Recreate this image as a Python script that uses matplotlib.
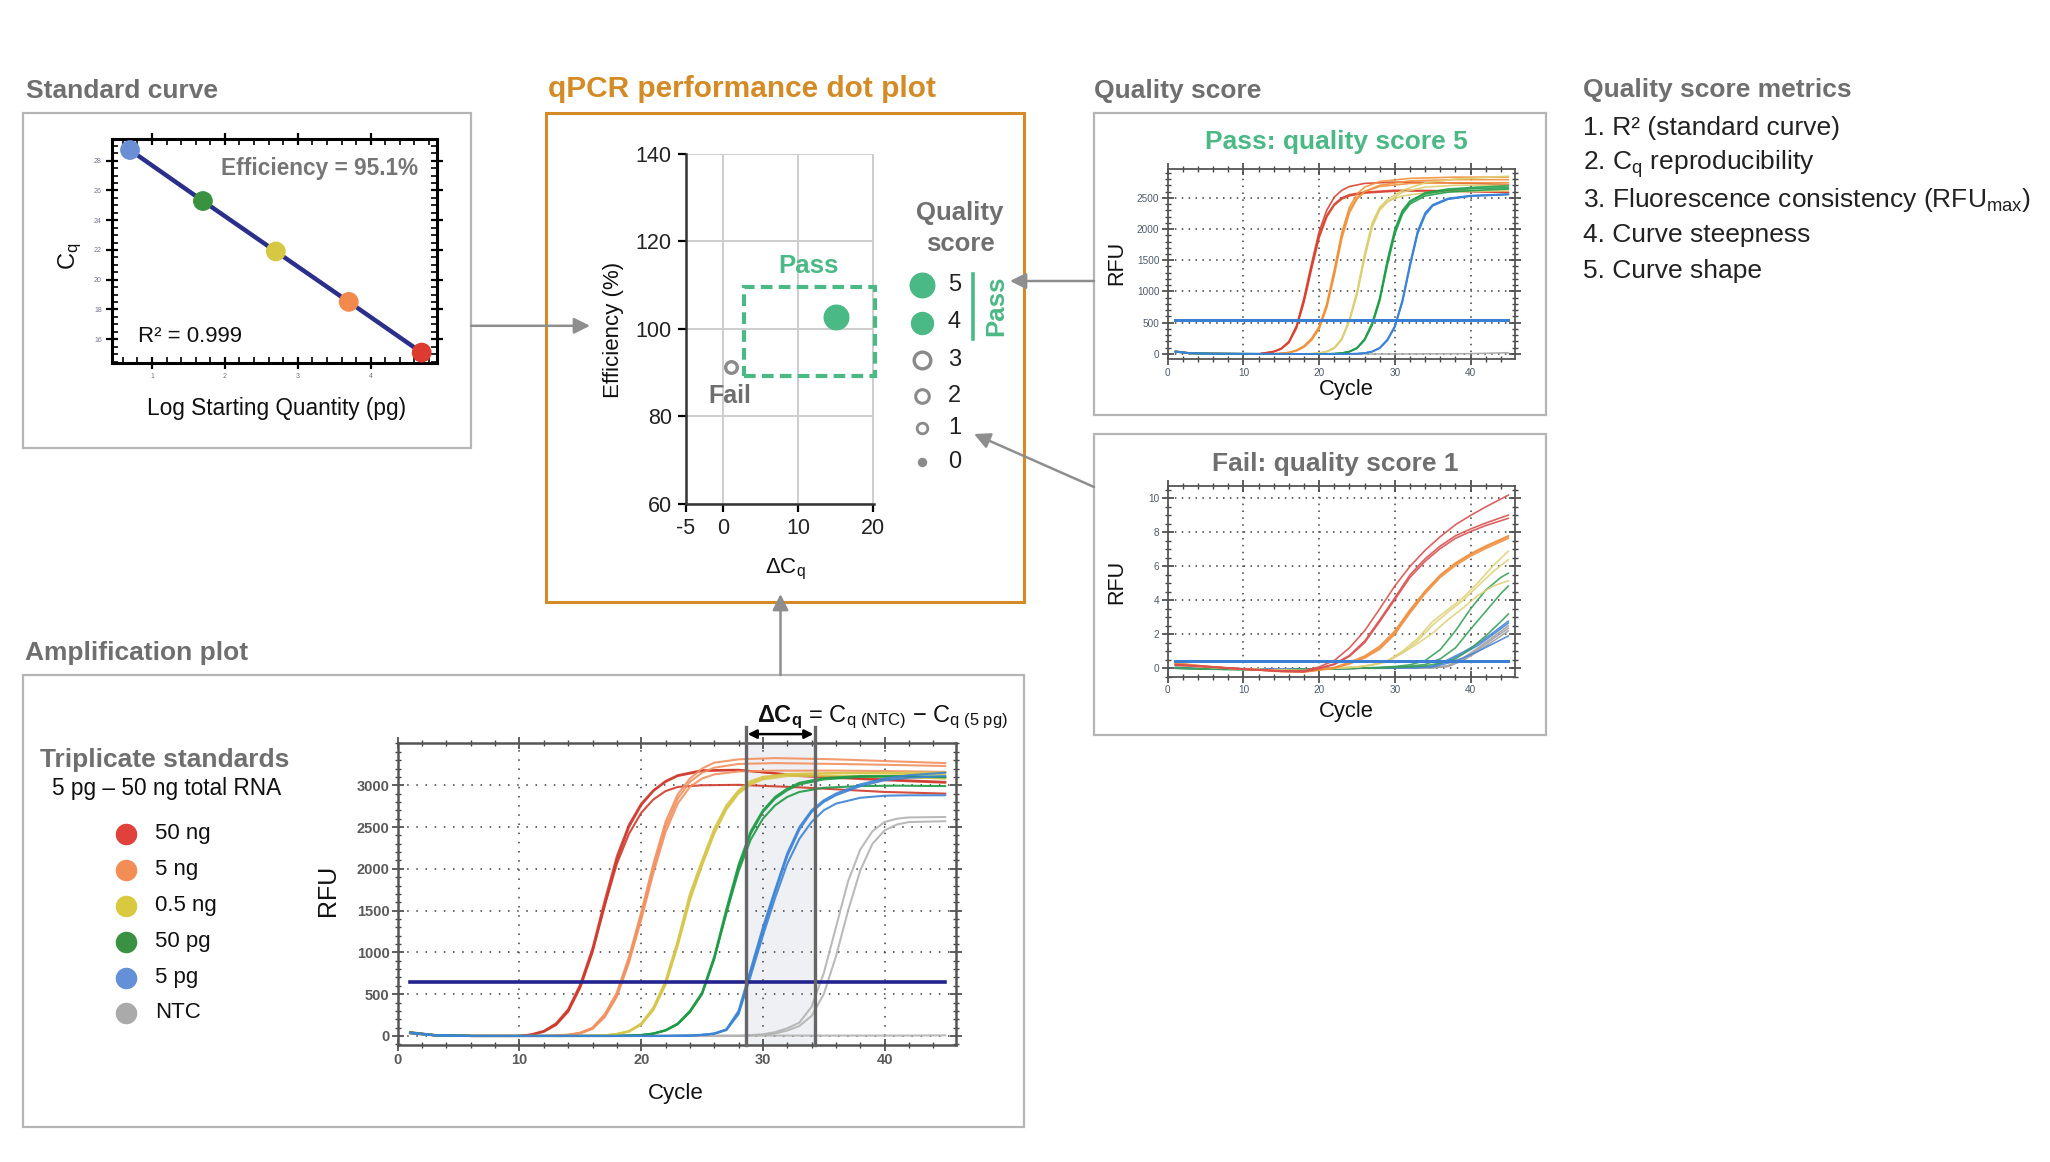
import numpy as np
import matplotlib.pyplot as plt
from matplotlib.patches import Rectangle

plt.rcParams['font.family'] = ['Liberation Sans', 'DejaVu Sans']
plt.rcParams['mathtext.fontset'] = 'custom'
plt.rcParams['mathtext.rm'] = 'Liberation Sans'
plt.rcParams['mathtext.bf'] = 'Liberation Sans:bold'
plt.rcParams['mathtext.it'] = 'Liberation Sans:italic'
plt.rcParams['axes.unicode_minus'] = False

W, H = 2050, 1162

# ---- standard curve ----
std_log_qty = [0.699, 1.699, 2.699, 3.699, 4.699]
std_cq = [28.72, 25.29, 21.90, 18.51, 15.10]
std_colors = ['#6a8fd4', '#3a9140', '#d6c843', '#f28a4e', '#dd3b2f']
efficiency = 95.1
r_squared = 0.999

# ---- dot plot ----
dot_dcq = [15.0, 1.1]
dot_eff = [102.6, 91.2]
pass_dcq = (2.8, 20.2)
pass_eff = (89.3, 109.5)
qs_scores = [5, 4, 3, 2, 1, 0]

# ---- amplification plot (RFU vs cycle, triplicates) ----
amp_threshold = 650
cq_5pg, cq_ntc = 28.6, 34.3
amp_legend = ['50 ng', '5 ng', '0.5 ng', '50 pg', '5 pg', 'NTC']
amp_legend_colors = ['#e0413a', '#f28d55', '#d9c940', '#3a9142', '#6390d6', '#aaaaaa']

amp_red_cyc = [1, 3, 6, 10, 11, 12, 13, 14, 15, 16, 17, 18, 19, 20, 21, 22, 23, 25, 28, 33, 40, 45]
amp_red = [
    [40, 10, 0, 0, 20, 60, 150, 320, 620, 1050, 1620, 2150, 2530, 2780, 2940, 3050, 3120, 3180, 3185, 3110, 3060, 3030],
    [35, 8, 0, 0, 15, 50, 130, 290, 580, 1000, 1560, 2100, 2500, 2760, 2930, 3040, 3110, 3170, 3180, 3120, 3070, 3040],
    [45, 12, 0, 0, 15, 55, 140, 300, 600, 1020, 1560, 2060, 2420, 2670, 2830, 2930, 2980, 3000, 3005, 2975, 2920, 2900],
]
amp_orange_cyc = [1, 3, 6, 12, 13, 14, 15, 16, 17, 18, 19, 20, 21, 22, 23, 24, 25, 26, 28, 31, 36, 40, 45]
amp_orange = [
    [35, 10, 0, 0, 5, 15, 40, 100, 260, 520, 950, 1480, 2060, 2560, 2890, 3080, 3200, 3270, 3310, 3325, 3310, 3290, 3265],
    [30, 8, 0, 0, 5, 15, 35, 90, 240, 490, 910, 1430, 2000, 2500, 2840, 3040, 3150, 3210, 3255, 3265, 3255, 3245, 3230],
    [30, 8, 0, 0, 4, 12, 30, 85, 225, 470, 880, 1390, 1950, 2440, 2780, 2980, 3080, 3130, 3165, 3175, 3175, 3170, 3160],
]
amp_yellow_cyc = [1, 3, 6, 15, 17, 18, 19, 20, 21, 22, 23, 24, 25, 26, 27, 28, 29, 30, 32, 36, 40, 45]
amp_yellow = [
    [40, 10, 0, 0, 8, 25, 60, 150, 340, 660, 1140, 1700, 2100, 2480, 2760, 2940, 3050, 3100, 3135, 3145, 3140, 3125],
    [35, 8, 0, 0, 7, 22, 55, 140, 320, 630, 1100, 1650, 2060, 2440, 2730, 2920, 3030, 3090, 3130, 3145, 3150, 3150],
    [38, 9, 0, 0, 7, 22, 52, 135, 310, 610, 1080, 1620, 2040, 2420, 2710, 2900, 3010, 3070, 3110, 3115, 3100, 3080],
]
amp_green_cyc = [1, 3, 6, 18, 20, 21, 22, 23, 24, 25, 26, 27, 28, 29, 30, 31, 32, 33, 35, 38, 41, 45]
amp_green = [
    [40, 10, 0, 0, 12, 30, 70, 150, 300, 520, 950, 1520, 2050, 2450, 2700, 2860, 2960, 3030, 3085, 3110, 3110, 3100],
    [35, 8, 0, 0, 10, 28, 65, 140, 285, 500, 920, 1480, 2010, 2420, 2680, 2840, 2940, 3010, 3070, 3100, 3105, 3095],
    [42, 10, 0, 0, 10, 28, 66, 142, 290, 505, 925, 1470, 1970, 2350, 2600, 2760, 2860, 2920, 2970, 2990, 2995, 2990],
]
amp_blue_cyc = [1, 3, 6, 22, 24, 25, 26, 27, 28, 29, 30, 31, 32, 33, 34, 35, 36, 38, 40, 42, 45]
amp_blue = [
    [40, 10, 0, 0, 5, 15, 30, 80, 300, 800, 1300, 1750, 2186, 2500, 2700, 2820, 2900, 3010, 3080, 3120, 3150],
    [35, 8, 0, 0, 4, 12, 28, 75, 280, 760, 1260, 1720, 2150, 2470, 2680, 2800, 2880, 2990, 3060, 3090, 3110],
    [38, 9, 0, 0, 4, 12, 26, 70, 260, 720, 1200, 1650, 2060, 2360, 2560, 2700, 2780, 2850, 2875, 2880, 2880],
]
amp_gray_cyc = [1, 3, 6, 28, 30, 31, 32, 33, 34, 35, 36, 37, 38, 39, 40, 41, 42, 45]
amp_gray = [
    [40, 10, 0, 0, 20, 45, 92, 160, 350, 750, 1300, 1850, 2230, 2450, 2560, 2600, 2615, 2620],
    [35, 8, 0, 0, 12, 30, 65, 120, 240, 500, 950, 1500, 1980, 2300, 2460, 2530, 2560, 2570],
    [45, 12, 5, 5, 5, 5, 5, 5, 5, 5, 5, 5, 5, 5, 5, 5, 5, 8],
]

# ---- quality score 5 (pass) ----
pass_threshold = 540
pass_red_cyc = [1, 3, 6, 12, 14, 15, 16, 17, 18, 19, 20, 21, 22, 23, 24, 26, 30, 35, 40, 45]
pass_red = [
    [45, 15, 5, 0, 40, 90, 200, 450, 900, 1450, 1960, 2300, 2510, 2620, 2680, 2730, 2750, 2745, 2730, 2710],
    [40, 12, 5, 0, 38, 85, 190, 430, 860, 1400, 1900, 2220, 2400, 2500, 2550, 2590, 2620, 2615, 2600, 2590],
    [40, 12, 5, 0, 35, 80, 180, 410, 830, 1360, 1860, 2190, 2380, 2480, 2530, 2575, 2605, 2610, 2600, 2585],
]
pass_orange_cyc = [1, 3, 6, 14, 16, 17, 18, 19, 20, 21, 22, 23, 24, 25, 26, 28, 32, 38, 45]
pass_orange = [
    [40, 12, 5, 0, 25, 60, 130, 250, 440, 800, 1350, 1950, 2350, 2560, 2670, 2760, 2810, 2830, 2830],
    [38, 12, 5, 0, 22, 55, 120, 235, 420, 770, 1300, 1900, 2300, 2500, 2600, 2680, 2730, 2740, 2740],
    [36, 10, 5, 0, 20, 50, 110, 220, 400, 740, 1260, 1850, 2260, 2480, 2600, 2700, 2770, 2790, 2790],
]
pass_yellow_cyc = [1, 3, 6, 17, 19, 20, 21, 22, 23, 24, 25, 26, 27, 28, 29, 31, 34, 38, 45]
pass_yellow = [
    [40, 12, 5, 0, 5, 15, 40, 100, 250, 560, 1000, 1600, 2100, 2350, 2470, 2620, 2740, 2800, 2845],
    [38, 11, 5, 0, 5, 14, 38, 95, 240, 540, 970, 1560, 2060, 2330, 2440, 2530, 2580, 2600, 2610],
    [36, 10, 5, 0, 4, 13, 36, 92, 232, 525, 950, 1530, 2030, 2300, 2430, 2590, 2670, 2700, 2700],
]
pass_green_cyc = [1, 3, 6, 20, 22, 23, 24, 25, 26, 27, 28, 29, 30, 31, 32, 34, 37, 41, 45]
pass_green = [
    [40, 12, 5, 0, 5, 15, 40, 100, 240, 500, 900, 1500, 2000, 2300, 2450, 2580, 2640, 2670, 2690],
    [38, 11, 5, 0, 5, 14, 38, 95, 230, 480, 870, 1460, 1960, 2270, 2430, 2560, 2620, 2650, 2660],
    [36, 10, 5, 0, 4, 13, 35, 90, 220, 460, 850, 1420, 1920, 2240, 2400, 2530, 2590, 2620, 2640],
]
pass_blue_cyc = [1, 3, 6, 23, 25, 26, 27, 28, 29, 30, 31, 32, 33, 34, 35, 37, 40, 45]
pass_blue = [
    [40, 12, 5, 0, 5, 15, 40, 100, 230, 450, 870, 1450, 1970, 2260, 2390, 2490, 2535, 2560],
    [38, 11, 5, 0, 5, 14, 38, 96, 222, 440, 850, 1420, 1940, 2240, 2380, 2480, 2530, 2555],
    [36, 10, 5, 0, 4, 13, 36, 92, 215, 430, 830, 1400, 1920, 2220, 2370, 2475, 2525, 2550],
]
pass_gray_cyc = [1, 3, 10, 20, 30, 40, 45]
pass_gray = [[30, 10, 0, 0, 0, 5, 20]]

# ---- quality score 1 (fail) ----
fail_threshold = 0.42
fail_red_cyc = [1, 5, 10, 15, 18, 20, 22, 24, 26, 28, 30, 32, 34, 36, 38, 40, 42, 45]
fail_red = [
    [0.2, 0.1, -0.05, -0.15, -0.15, 0.08, 0.45, 1.2, 2.2, 3.5, 4.85, 6.0, 6.95, 7.75, 8.45, 9.0, 9.5, 10.2],
    [0.22, 0.1, -0.05, -0.18, -0.2, 0.0, 0.25, 0.75, 1.6, 2.85, 4.15, 5.5, 6.45, 7.2, 7.8, 8.2, 8.55, 9.02],
    [0.18, 0.08, -0.06, -0.18, -0.2, -0.02, 0.22, 0.7, 1.5, 2.75, 4.05, 5.35, 6.3, 7.05, 7.65, 8.05, 8.4, 8.83],
]
fail_orange_cyc = [1, 5, 10, 15, 18, 20, 22, 24, 26, 28, 30, 32, 34, 36, 38, 40, 42, 45]
fail_orange = [
    [0.3, 0.12, -0.05, -0.18, -0.22, -0.1, 0.02, 0.3, 0.65, 1.2, 2.1, 3.35, 4.5, 5.45, 6.15, 6.7, 7.15, 7.75],
    [0.25, 0.1, -0.06, -0.2, -0.22, -0.12, 0.0, 0.25, 0.6, 1.12, 2.0, 3.25, 4.4, 5.35, 6.05, 6.6, 7.05, 7.65],
    [0.28, 0.11, -0.04, -0.17, -0.2, -0.08, 0.05, 0.35, 0.72, 1.3, 2.2, 3.45, 4.55, 5.5, 6.2, 6.75, 7.2, 7.8],
]
fail_yellow_cyc = [1, 5, 10, 15, 18, 20, 22, 25, 27, 29, 31, 33, 35, 37, 39, 41, 43, 45]
fail_yellow = [
    [0.2, 0.08, -0.05, -0.12, -0.15, -0.05, 0.0, 0.08, 0.2, 0.42, 1.0, 1.75, 2.76, 3.45, 4.15, 5.05, 6.05, 6.9],
    [0.18, 0.07, -0.05, -0.12, -0.14, -0.05, 0.0, 0.07, 0.18, 0.38, 0.9, 1.6, 2.55, 3.3, 4.0, 4.85, 5.7, 6.4],
    [0.16, 0.06, -0.05, -0.12, -0.14, -0.05, 0.0, 0.07, 0.2, 0.45, 0.9, 1.45, 2.07, 2.85, 3.55, 4.3, 4.85, 5.15],
]
fail_green_cyc = [1, 5, 10, 15, 20, 25, 28, 30, 32, 34, 36, 38, 40, 42, 44, 45]
fail_green = [
    [0.0, -0.05, -0.08, -0.1, -0.05, 0.0, 0.05, 0.1, 0.2, 0.45, 1.1, 2.2, 3.5, 4.6, 5.35, 5.6],
    [0.0, -0.05, -0.08, -0.1, -0.05, 0.0, 0.03, 0.07, 0.12, 0.22, 0.55, 1.2, 2.3, 3.35, 4.4, 4.85],
    [0.0, -0.05, -0.08, -0.1, -0.05, 0.0, 0.02, 0.05, 0.08, 0.14, 0.3, 0.55, 1.15, 1.9, 2.75, 3.2],
]
fail_blue_cyc = [1, 5, 10, 15, 20, 25, 30, 33, 35, 37, 39, 41, 43, 45]
fail_blue = [
    [0.05, 0.0, -0.05, -0.08, -0.05, 0.0, 0.02, 0.05, 0.12, 0.5, 0.95, 1.45, 2.1, 2.78],
    [0.05, 0.0, -0.05, -0.08, -0.05, 0.0, 0.02, 0.05, 0.1, 0.42, 0.85, 1.35, 2.0, 2.66],
    [0.05, 0.0, -0.05, -0.08, -0.05, 0.0, 0.02, 0.04, 0.08, 0.3, 0.6, 1.0, 1.45, 1.9],
]
fail_gray_cyc = [1, 5, 10, 15, 20, 25, 30, 33, 35, 37, 39, 41, 43, 45]
fail_gray = [
    [0.02, 0.0, -0.03, -0.05, -0.03, 0.0, 0.0, 0.02, 0.04, 0.15, 0.6, 1.2, 1.85, 2.5],
    [0.02, 0.0, -0.03, -0.05, -0.03, 0.0, 0.0, 0.02, 0.03, 0.12, 0.5, 1.1, 1.75, 2.35],
    [0.02, 0.0, -0.03, -0.05, -0.03, 0.0, 0.0, 0.01, 0.03, 0.1, 0.45, 1.0, 1.6, 2.2],
]

metrics = ['1. R² (standard curve)', '2. C$_\\mathrm{q}$ reproducibility',
           '3. Fluorescence consistency (RFU$_\\mathrm{max}$)', '4. Curve steepness', '5. Curve shape']

GRAY_T = '#6f6f6f'
GREEN = '#4bb985'
ORANGE = '#d58b25'
BOX = '#b5b5b5'
ARROW = '#8e8e8e'

fig = plt.figure(figsize=(20.5, 11.62), dpi=100, facecolor='white')


def px_axes(x0, y0, x1, y1):
    return fig.add_axes([x0 / W, 1 - y1 / H, (x1 - x0) / W, (y1 - y0) / H])


def run_style(ax, ylim, ymaj, ymin, lsize, lcolor, lweight, slw, dots):
    ax.set_xlim(0, 45.9)
    ax.set_ylim(*ylim)
    ax.set_xticks([0, 10, 20, 30, 40])
    ax.set_xticks(np.arange(0, 46, 2), minor=True)
    ax.set_yticks(ymaj)
    ax.set_yticks(ymin, minor=True)
    ax.grid(True, which='major', color='#3c3c3c', lw=1.1, linestyle=(0, dots))
    ax.tick_params(which='major', direction='inout', length=8, width=1.2, top=True, right=True,
                   color='#444', labelsize=lsize, labelcolor=lcolor, pad=2)
    ax.tick_params(which='minor', direction='inout', length=4.5, width=1, top=True, right=True, color='#444')
    for lab in ax.get_xticklabels() + ax.get_yticklabels():
        lab.set_fontweight(lweight)
    for s in ax.spines.values():
        s.set_color('#555555')
        s.set_linewidth(slw)


def draw_runs(ax, groups, lw):
    for cyc, reps, col in groups:
        for r in reps:
            ax.plot(cyc, r, color=col, lw=lw, alpha=0.9, solid_capstyle='round')


# ---------- standard curve ----------
ax1 = px_axes(112.3, 138.7, 436.7, 362.7)
ax1.plot(std_log_qty, std_cq, color='#2a2f8c', lw=3.2, zorder=2)
ax1.scatter(std_log_qty, std_cq, s=175, c=std_colors, zorder=3, clip_on=False)
ax1.set_xlim(0.456, 4.905)
ax1.set_ylim(14.42, 29.48)
ax1.set_xticks([1, 2, 3, 4])
ax1.set_xticks(np.arange(0.6, 4.9, 0.2), minor=True)
ax1.set_yticks([16, 18, 20, 22, 24, 26, 28])
ax1.set_yticks(np.arange(14.5, 29.5, 0.5), minor=True)
ax1.tick_params(which='major', direction='inout', length=9, width=1.6, top=True, right=True,
                labelsize=5, labelcolor='#7a6f8a', pad=3)
ax1.tick_params(which='minor', direction='in', length=4, width=1.2, top=True, right=True)
for s in ax1.spines.values():
    s.set_linewidth(2.2)

# ---------- dot plot ----------
ax2 = px_axes(685.7, 153.7, 873.7, 503.9)
ax2.set_xlim(-5, 20.05)
ax2.set_ylim(60, 140)
ax2.set_xticks([-5, 0, 10, 20])
ax2.set_yticks([60, 80, 100, 120, 140])
ax2.grid(True, color='#cdcdcd', lw=1.4)
ax2.set_axisbelow(True)
for sp in ['top', 'right']:
    ax2.spines[sp].set_visible(False)
for sp in ['left', 'bottom']:
    ax2.spines[sp].set_color('#333333')
    ax2.spines[sp].set_linewidth(1.8)
ax2.tick_params(direction='out', length=6, width=1.6, labelsize=15.5, labelcolor='#222', pad=4)
ax2.add_patch(Rectangle((pass_dcq[0], pass_eff[0]), pass_dcq[1] - pass_dcq[0], pass_eff[1] - pass_eff[0],
                        fill=False, edgecolor=GREEN, lw=3, linestyle=(0, (2.8, 1.5)), clip_on=False, zorder=3))
ax2.scatter(dot_dcq[0], dot_eff[0], s=313, color=GREEN, zorder=5, clip_on=False)
ax2.scatter(dot_dcq[1], dot_eff[1], s=70, facecolor='white', edgecolor='#8a8a8a', lw=2.4, zorder=5)
ax2.text(11.3, 114.3, 'Pass', color=GREEN, fontsize=18.5, fontweight='bold', ha='center', va='center')
ax2.text(0.85, 84.6, 'Fail', color=GRAY_T, fontsize=18, fontweight='bold', ha='center', va='center')

# ---------- pass panel ----------
ax3 = px_axes(1167.7, 168.7, 1515.3, 359.3)
draw_runs(ax3, [(pass_gray_cyc, pass_gray, '#a8a8a8'),
                (pass_red_cyc, pass_red, '#d9402e'),
                (pass_orange_cyc, pass_orange, '#f0913a'),
                (pass_yellow_cyc, pass_yellow, '#dccf72'),
                (pass_green_cyc, pass_green, '#1f9e4a'),
                (pass_blue_cyc, pass_blue, '#3a82d6')], 1.2)
ax3.plot([1, 45], [pass_threshold] * 2, color='#3b7fd4', lw=2.2)
run_style(ax3, (-85, 2965), np.arange(0, 2501, 500), np.arange(-0, 2901, 100),
          7.2, '#4d5a6a', 'normal', 1.3, (1, 3.5))

# ---------- fail panel ----------
ax4 = px_axes(1167.7, 486, 1515.3, 676.7)
draw_runs(ax4, [(fail_gray_cyc, fail_gray, '#a3a3a3'),
                (fail_blue_cyc, fail_blue, '#4a88d8'),
                (fail_green_cyc, fail_green, '#3aa05a'),
                (fail_yellow_cyc, fail_yellow, '#e0d27a'),
                (fail_orange_cyc, fail_orange, '#f09040'),
                (fail_red_cyc, fail_red, '#d95050')], 1.2)
ax4.plot([1, 45], [fail_threshold] * 2, color='#3b7fd4', lw=2.2)
run_style(ax4, (-0.47, 10.73), np.arange(0, 11, 2), np.arange(-0.5, 10.6, 0.5),
          7.2, '#4d5a6a', 'normal', 1.3, (1, 3.5))

# ---------- amplification plot ----------
ax5 = px_axes(397.8, 743.3, 956.4, 1045)
ax5.axvspan(cq_5pg, cq_ntc, color='#eff0f3', zorder=0)
draw_runs(ax5, [(amp_gray_cyc, amp_gray, '#b3b3b3'),
                (amp_red_cyc, amp_red, '#cf3a2c'),
                (amp_orange_cyc, amp_orange, '#f2905f'),
                (amp_yellow_cyc, amp_yellow, '#d6c64a'),
                (amp_green_cyc, amp_green, '#1e9a45'),
                (amp_blue_cyc, amp_blue, '#3d84d4')], 1.5)
ax5.plot([1, 45], [amp_threshold] * 2, color='#23238f', lw=2.6)
run_style(ax5, (-108, 3502), np.arange(0, 3001, 500), np.arange(-100, 3501, 100),
          10.5, '#5a5a5a', 'bold', 1.8, (1, 5))
for c in (cq_5pg, cq_ntc):
    ax5.plot([c, c], [-108, 3700], color='#666666', lw=2.4, clip_on=False, zorder=6)
ax5.annotate('', xy=(cq_5pg + 0.15, 3612), xytext=(cq_ntc - 0.15, 3612),
             arrowprops=dict(arrowstyle='<|-|>', color='black', lw=1.8, mutation_scale=13,
                             shrinkA=0, shrinkB=0), annotation_clip=False)

# ---------- overlay: boxes, titles, arrows, legends ----------
ov = fig.add_axes([0, 0, 1, 1], zorder=10)
ov.set_xlim(0, W)
ov.set_ylim(H, 0)
ov.set_autoscale_on(False)
ov.axis('off')
ov.patch.set_alpha(0)

for (x0, y0, x1, y1, col, lw) in [(23.3, 113.3, 471, 447.7, BOX, 1.6),
                                  (546, 113.3, 1024, 602, ORANGE, 2.2),
                                  (1094, 113.3, 1545.7, 415, BOX, 1.6),
                                  (1094, 434, 1545.7, 735, BOX, 1.6),
                                  (23.3, 675, 1024, 1127, BOX, 1.6)]:
    ov.add_patch(Rectangle((x0, y0), x1 - x0, y1 - y0, fill=False, edgecolor=col, lw=lw))

ov.text(26, 91, 'Standard curve', fontsize=19, fontweight='bold', color=GRAY_T, va='center')
ov.text(548, 89, 'qPCR performance dot plot', fontsize=21.5, fontweight='bold', color=ORANGE, va='center')
ov.text(1094, 91, 'Quality score', fontsize=19, fontweight='bold', color=GRAY_T, va='center')
ov.text(25, 653, 'Amplification plot', fontsize=19, fontweight='bold', color=GRAY_T, va='center')
ov.text(1583, 90, 'Quality score metrics', fontsize=19, fontweight='bold', color=GRAY_T, va='center')
for i, m in enumerate(metrics):
    ov.text(1583, 128 + i * 35.8, m, fontsize=19, color='#222222', va='center')

# standard curve texts
ov.text(320, 168.5, f'Efficiency = {efficiency}%', fontsize=16.3, fontweight='bold', color='#767676',
        ha='center', va='center')
ov.text(190, 336.5, f'R² = {r_squared}', fontsize=16, color='#111111', ha='center', va='center')
ov.text(277, 408.5, 'Log Starting Quantity (pg)', fontsize=16.3, color='#111111', ha='center', va='center')
ov.text(70, 256.7, 'C$_\\mathrm{q}$', fontsize=17, color='#111111', ha='center', va='center', rotation=90)

# dot plot texts and legend
ov.text(613, 330, 'Efficiency (%)', fontsize=16, color='#111111', ha='center', va='center', rotation=90)
ov.text(785, 569, 'ΔC$_\\mathrm{q}$', fontsize=16, color='#111111', ha='center', va='center')
ov.text(960, 212.6, 'Quality', fontsize=18.5, fontweight='bold', color=GRAY_T, ha='center', va='center')
ov.text(960, 244.2, 'score', fontsize=18.5, fontweight='bold', color=GRAY_T, ha='center', va='center')
leg_y = [284.6, 322.5, 360, 396.1, 428.4, 461.8]
leg_s = [313, 250, 144, 96, 59, 33]
leg_lw = [0, 0, 2.4, 2.2, 2.0, 0]
for sc, yy, ss, lw in zip(qs_scores, leg_y, leg_s, leg_lw):
    if sc >= 4:
        ov.scatter(921.7, yy, s=ss, color=GREEN)
    elif sc == 0:
        ov.scatter(921.7, yy, s=ss, color='#8a8a8a')
    else:
        ov.scatter(921.7, yy, s=ss, facecolor='white', edgecolor='#8a8a8a', lw=lw)
    ov.text(948, yy, str(sc), fontsize=17, color='#222222', va='center')
ov.plot([973.3, 973.3], [274, 339], color=GREEN, lw=2.6)
ov.text(996, 305.6, 'Pass', fontsize=18.5, fontweight='bold', color=GREEN, ha='center', va='center', rotation=90)

# pass / fail panel texts
ov.text(1336.7, 142.5, 'Pass: quality score 5', fontsize=19, fontweight='bold', color=GREEN, ha='center', va='center')
ov.text(1335, 464, 'Fail: quality score 1', fontsize=19, fontweight='bold', color=GRAY_T, ha='center', va='center')
for yy in (263, 581.7):
    ov.text(1116.7, yy, 'RFU', fontsize=15.5, color='#111111', ha='center', va='center', rotation=90)
for yy in (390, 711.7):
    ov.text(1346.7, yy, 'Cycle', fontsize=15.8, color='#111111', ha='center', va='center')

# amplification texts and legend
ov.text(40, 760, 'Triplicate standards', fontsize=19, fontweight='bold', color=GRAY_T, va='center')
ov.text(51.7, 789, '5 pg – 50 ng total RNA', fontsize=16.3, color='#111111', va='center')
amp_leg_y = [834, 870, 906, 941.7, 977.7, 1012.7]
for lab, col, yy in zip(amp_legend, amp_legend_colors, amp_leg_y):
    ov.scatter(125.7, yy, s=210, color=col)
    ov.text(155, yy, lab, fontsize=16, color='#111111', va='center')
ov.text(328.3, 890, 'RFU', fontsize=18, color='#111111', ha='center', va='center', rotation=90)
ov.text(676, 1093, 'Cycle', fontsize=16, color='#111111', ha='center', va='center')
ov.text(757, 722, '$\\mathbf{\\Delta C_q}$ = C$_\\mathrm{q\\ (NTC)}$ − C$_\\mathrm{q\\ (5\\ pg)}$',
        fontsize=17, color='#111111', ha='left', va='baseline')

# arrows
arrow_kw = dict(arrowstyle='-|>', color=ARROW, lw=1.8, mutation_scale=24, shrinkA=0, shrinkB=0)
for start, tip in [((471, 325.8), (590, 325.8)),
                   ((1094, 281), (1010, 281)),
                   ((1094, 487), (974, 434)),
                   ((780.5, 675), (780.5, 594))]:
    ov.annotate('', xy=tip, xytext=start, arrowprops=arrow_kw)

fig.savefig('out.png', dpi=100, facecolor='white')
